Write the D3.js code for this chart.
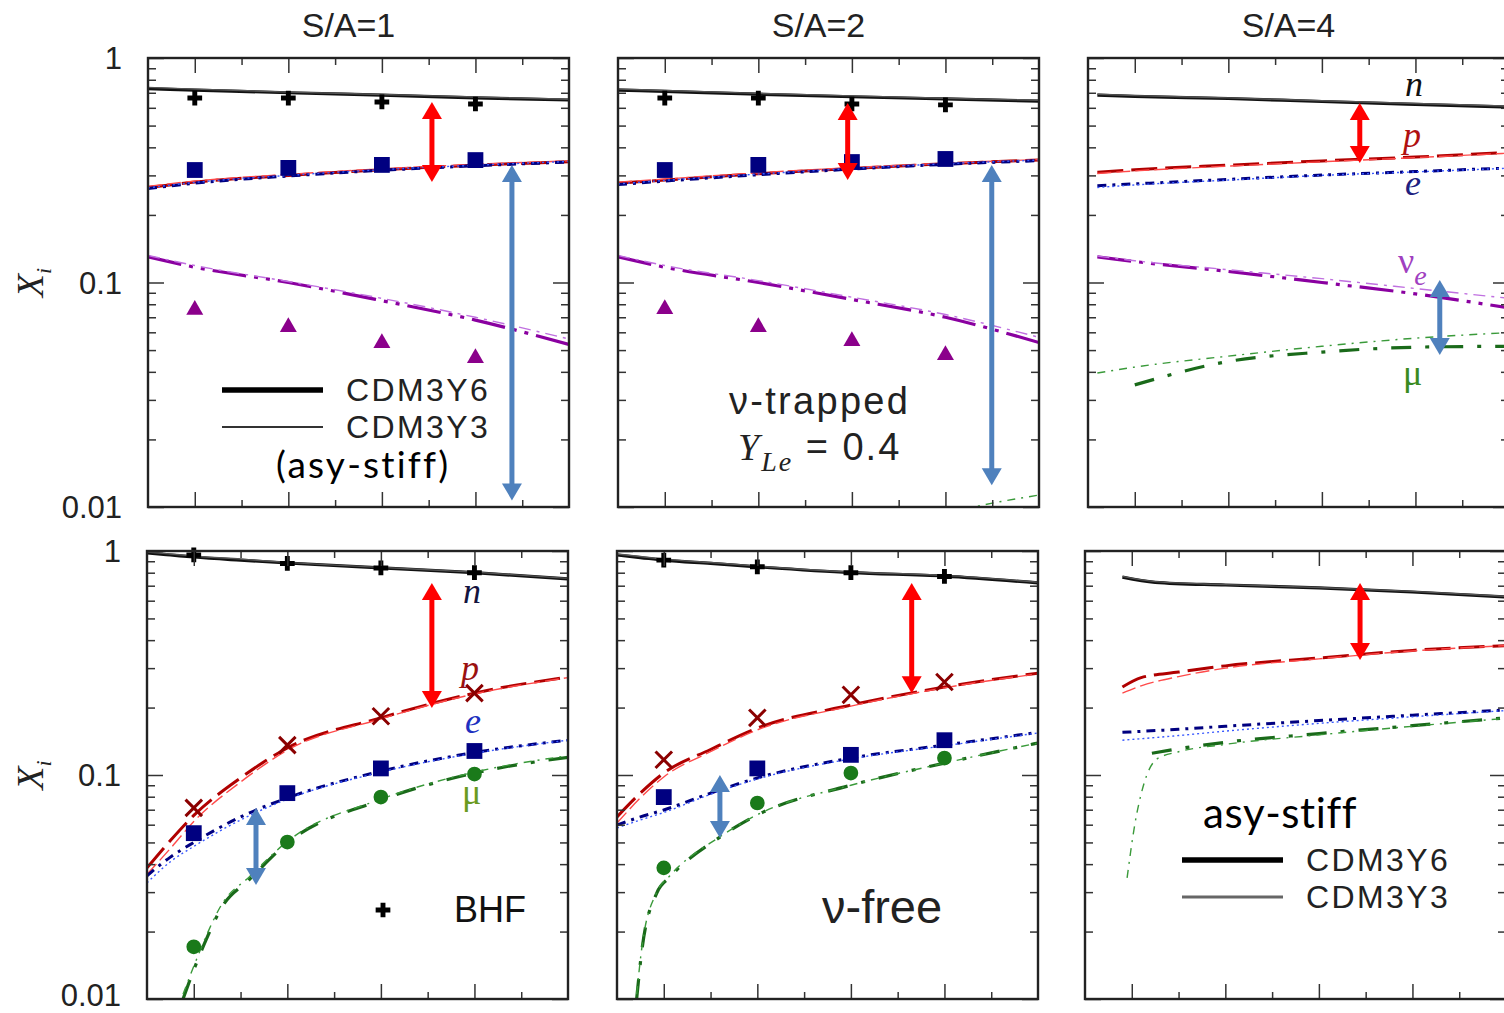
<!DOCTYPE html>
<html><head><meta charset="utf-8">
<script src="https://cdn.jsdelivr.net/npm/d3@7"></script>
<style>body{margin:0;background:#fff;} svg{display:block}</style>
</head><body><svg id="c" width="1504" height="1013"></svg>
<script>
// ---------- categories / tick labels ----------
const columnTitles = ["S/A=1", "S/A=2", "S/A=4"];
const yTickValues = [1, 0.1, 0.01];
const yTickLabels = ["1", "0.1", "0.01"];
const xMajorTicks = [0.2, 0.4, 0.6, 0.8];
const xMinorTicks = [0.3, 0.5, 0.7, 0.9];
const bhfDensity = [0.2, 0.4, 0.6, 0.8];
const legendModels = ["CDM3Y6", "CDM3Y3"];

// ---------- panel 1 : S/A=1, nu-trapped ----------
const tl_x   = [0.1, 0.2, 0.4, 0.6, 0.8, 1.0];
const tl_n6  = [0.73, 0.72, 0.70, 0.683, 0.665, 0.65];
const tl_n3  = [0.74, 0.727, 0.705, 0.688, 0.67, 0.655];
const tl_p6  = [0.265, 0.28, 0.30, 0.318, 0.333, 0.345];
const tl_p3  = [0.268, 0.283, 0.303, 0.321, 0.336, 0.348];
const tl_e6  = [0.262, 0.277, 0.298, 0.316, 0.331, 0.344];
const tl_e3  = [0.264, 0.279, 0.300, 0.318, 0.333, 0.346];
const tl_nu6 = [0.13, 0.117, 0.10, 0.083, 0.068, 0.053];
const tl_nu3 = [0.132, 0.119, 0.101, 0.085, 0.070, 0.056];
const tl_bhf_n  = [0.663, 0.663, 0.637, 0.624];
const tl_bhf_e  = [0.317, 0.324, 0.334, 0.351];
const tl_bhf_nu = [0.0755, 0.0633, 0.0537, 0.0461];

// ---------- panel 2 : S/A=2, nu-trapped ----------
const tm_x   = [0.1, 0.2, 0.4, 0.6, 0.8, 1.0];
const tm_n6  = [0.72, 0.71, 0.69, 0.672, 0.657, 0.643];
const tm_n3  = [0.728, 0.716, 0.696, 0.678, 0.662, 0.648];
const tm_p6  = [0.277, 0.286, 0.305, 0.322, 0.338, 0.351];
const tm_p3  = [0.28, 0.289, 0.308, 0.325, 0.34, 0.353];
const tm_e6  = [0.273, 0.283, 0.302, 0.32, 0.336, 0.349];
const tm_e3  = [0.275, 0.285, 0.304, 0.322, 0.338, 0.351];
const tm_nu6 = [0.13, 0.117, 0.10, 0.084, 0.07, 0.054];
const tm_nu3 = [0.132, 0.119, 0.102, 0.086, 0.072, 0.057];
const tm_mu_x = [0.84, 0.9, 1.0];
const tm_mu3  = [0.0098, 0.0104, 0.0113];
const tm_bhf_n  = [0.663, 0.663, 0.624, 0.618];
const tm_bhf_e  = [0.317, 0.334, 0.344, 0.355];
const tm_bhf_nu = [0.0762, 0.0633, 0.0548, 0.0475];

// ---------- panel 3 : S/A=4, nu-trapped ----------
const tr_x   = [0.12, 0.2, 0.4, 0.6, 0.8, 1.0];
const tr_n6  = [0.684, 0.675, 0.66, 0.64, 0.622, 0.605];
const tr_n3  = [0.69, 0.68, 0.664, 0.645, 0.627, 0.61];
const tr_p6  = [0.31, 0.318, 0.333, 0.348, 0.362, 0.38];
const tr_p3  = [0.306, 0.314, 0.33, 0.345, 0.36, 0.377];
const tr_e6  = [0.27, 0.275, 0.288, 0.301, 0.312, 0.324];
const tr_e3  = [0.265, 0.272, 0.286, 0.30, 0.311, 0.323];
const tr_nu6 = [0.13, 0.124, 0.112, 0.100, 0.089, 0.077];
const tr_nu3 = [0.131, 0.125, 0.114, 0.104, 0.094, 0.085];
const tr_mu6_x = [0.2, 0.4, 0.6, 0.8, 1.0];
const tr_mu6   = [0.035, 0.0445, 0.049, 0.0515, 0.052];
const tr_mu3   = [0.0395, 0.042, 0.047, 0.052, 0.0565, 0.0598];

// ---------- panel 4 : S/A=1, nu-free ----------
const bl_x   = [0.1, 0.15, 0.2, 0.3, 0.4, 0.6, 0.8, 1.0];
const bl_n6  = [0.98, 0.96, 0.94, 0.91, 0.884, 0.84, 0.80, 0.75];
const bl_n3  = [0.99, 0.97, 0.95, 0.92, 0.89, 0.845, 0.805, 0.755];
const bl_p6  = [0.0385, 0.051, 0.066, 0.097, 0.132, 0.18, 0.232, 0.274];
const bl_p3  = [0.036, 0.047, 0.062, 0.093, 0.129, 0.178, 0.23, 0.272];
const bl_e6  = [0.0355, 0.043, 0.05, 0.065, 0.079, 0.104, 0.126, 0.143];
const bl_e3  = [0.033, 0.041, 0.048, 0.063, 0.078, 0.103, 0.125, 0.143];
const bl_mu_x = [0.177, 0.2, 0.226, 0.26, 0.318, 0.4, 0.6, 0.8, 1.0];
const bl_mu6  = [0.01, 0.0135, 0.0183, 0.0257, 0.034, 0.0497, 0.0773, 0.102, 0.12];
const bl_mu3  = [0.0105, 0.014, 0.019, 0.0265, 0.035, 0.0505, 0.078, 0.103, 0.122];
const bl_bhf_n  = [0.96, 0.88, 0.84, 0.80];
const bl_bhf_p  = [0.0713, 0.136, 0.183, 0.232];
const bl_bhf_e  = [0.055, 0.083, 0.107, 0.128];
const bl_bhf_mu = [0.0171, 0.0502, 0.0797, 0.101];

// ---------- panel 5 : S/A=2, nu-free ----------
const bm_x   = [0.1, 0.15, 0.2, 0.3, 0.4, 0.6, 0.8, 1.0];
const bm_n6  = [0.96, 0.935, 0.91, 0.88, 0.85, 0.80, 0.773, 0.72];
const bm_n3  = [0.97, 0.945, 0.92, 0.888, 0.856, 0.806, 0.778, 0.725];
const bm_p6  = [0.065, 0.083, 0.102, 0.13, 0.162, 0.205, 0.247, 0.285];
const bm_p3  = [0.061, 0.079, 0.098, 0.127, 0.159, 0.203, 0.245, 0.283];
const bm_e6  = [0.0598, 0.065, 0.0698, 0.083, 0.097, 0.119, 0.136, 0.155];
const bm_e3  = [0.058, 0.063, 0.068, 0.082, 0.096, 0.118, 0.135, 0.154];
const bm_mu_x = [0.142, 0.154, 0.185, 0.213, 0.32, 0.4, 0.6, 0.8, 1.0];
const bm_mu6  = [0.01, 0.017, 0.0297, 0.035, 0.0528, 0.0663, 0.09, 0.113, 0.139];
const bm_mu3  = [0.0105, 0.0175, 0.030, 0.0355, 0.053, 0.0665, 0.09, 0.113, 0.139];
const bm_bhf_n  = [0.91, 0.85, 0.80, 0.77];
const bm_bhf_p  = [0.117, 0.18, 0.228, 0.26];
const bm_bhf_e  = [0.0797, 0.107, 0.123, 0.143];
const bm_bhf_mu = [0.0385, 0.075, 0.102, 0.119];

// ---------- panel 6 : S/A=4, nu-free ----------
const br_n_x = [0.18, 0.25, 0.4, 0.6, 0.8, 1.0];
const br_n6  = [0.765, 0.725, 0.705, 0.684, 0.656, 0.623];
const br_n3  = [0.77, 0.73, 0.708, 0.687, 0.66, 0.627];
const br_p_x = [0.18, 0.22, 0.3, 0.4, 0.6, 0.8, 1.0];
const br_p6  = [0.247, 0.272, 0.288, 0.307, 0.333, 0.36, 0.378];
const br_p3  = [0.232, 0.25, 0.275, 0.30, 0.33, 0.358, 0.378];
const br_e_x = [0.18, 0.3, 0.4, 0.6, 0.8, 1.0];
const br_e6  = [0.155, 0.16, 0.165, 0.175, 0.185, 0.195];
const br_e3  = [0.143, 0.15, 0.157, 0.17, 0.182, 0.194];
const br_mu6_x = [0.243, 0.3, 0.4, 0.6, 0.8, 1.0];
const br_mu6   = [0.125, 0.131, 0.14, 0.153, 0.166, 0.18];
const br_mu3_x = [0.19, 0.207, 0.224, 0.254, 0.3, 0.4, 0.6, 0.8, 1.0];
const br_mu3   = [0.0347, 0.061, 0.0884, 0.118, 0.127, 0.137, 0.151, 0.165, 0.179];

// ---------- annotation arrows [x, yTip1, yTip2] per panel ----------
const redArrows  = [[0.707, 0.637, 0.28], [0.591, 0.63, 0.286], [0.681, 0.63, 0.341],
                    [0.709, 0.72, 0.199], [0.730, 0.72, 0.232], [0.688, 0.72, 0.326]];
const blueArrows = [[0.878, 0.334, 0.0107], [0.899, 0.334, 0.0125], [0.852, 0.1026, 0.0475],
                    [0.333, 0.0713, 0.0323], [0.32, 0.1, 0.0523], null];

// ---------- styles ----------
const styles = {
  n6:  {stroke: "#111",    w: 3.2, dash: null},
  n3:  {stroke: "#555",    w: 1.4, dash: null},
  p6:  {stroke: "#b00000", w: 3.0, dash: "26,8"},
  p3:  {stroke: "#ff4a4a", w: 1.4, dash: "14,5"},
  e6:  {stroke: "#000080", w: 3.0, dash: "9,6,3,6"},
  e3:  {stroke: "#3a5aff", w: 1.4, dash: "2,3"},
  nu6: {stroke: "#8a00a0", w: 3.2, dash: "34,8,4,8,4,8"},
  nu3: {stroke: "#c070e0", w: 1.4, dash: "12,6,3,6"},
  mu6: {stroke: "#1a6a1a", w: 3.2, dash: "20,14,4,14"},
  mu3: {stroke: "#3a9a3a", w: 1.4, dash: "8,6,2,6"}
};
const zip = (xs, ys) => xs.map((v, i) => [v, ys[i]]);

const panelLines = [
  [["n6", tl_x, tl_n6], ["n3", tl_x, tl_n3], ["p6", tl_x, tl_p6], ["p3", tl_x, tl_p3],
   ["e6", tl_x, tl_e6], ["e3", tl_x, tl_e3], ["nu6", tl_x, tl_nu6], ["nu3", tl_x, tl_nu3]],
  [["n6", tm_x, tm_n6], ["n3", tm_x, tm_n3], ["p6", tm_x, tm_p6], ["p3", tm_x, tm_p3],
   ["e6", tm_x, tm_e6], ["e3", tm_x, tm_e3], ["nu6", tm_x, tm_nu6], ["nu3", tm_x, tm_nu3],
   ["mu3", tm_mu_x, tm_mu3]],
  [["n6", tr_x, tr_n6], ["n3", tr_x, tr_n3], ["p6", tr_x, tr_p6], ["p3", tr_x, tr_p3],
   ["e6", tr_x, tr_e6], ["e3", tr_x, tr_e3], ["nu6", tr_x, tr_nu6], ["nu3", tr_x, tr_nu3],
   ["mu6", tr_mu6_x, tr_mu6], ["mu3", tr_x, tr_mu3]],
  [["n6", bl_x, bl_n6], ["n3", bl_x, bl_n3], ["p6", bl_x, bl_p6], ["p3", bl_x, bl_p3],
   ["e6", bl_x, bl_e6], ["e3", bl_x, bl_e3], ["mu6", bl_mu_x, bl_mu6], ["mu3", bl_mu_x, bl_mu3]],
  [["n6", bm_x, bm_n6], ["n3", bm_x, bm_n3], ["p6", bm_x, bm_p6], ["p3", bm_x, bm_p3],
   ["e6", bm_x, bm_e6], ["e3", bm_x, bm_e3], ["mu6", bm_mu_x, bm_mu6], ["mu3", bm_mu_x, bm_mu3]],
  [["n6", br_n_x, br_n6], ["n3", br_n_x, br_n3], ["p6", br_p_x, br_p6], ["p3", br_p_x, br_p3],
   ["e6", br_e_x, br_e6], ["e3", br_e_x, br_e3], ["mu6", br_mu6_x, br_mu6], ["mu3", br_mu3_x, br_mu3]]
];

const panelPoints = [
  {n: tl_bhf_n, e: tl_bhf_e, nu: tl_bhf_nu},
  {n: tm_bhf_n, e: tm_bhf_e, nu: tm_bhf_nu},
  {},
  {n: bl_bhf_n, p: bl_bhf_p, e: bl_bhf_e, mu: bl_bhf_mu},
  {n: bm_bhf_n, p: bm_bhf_p, e: bm_bhf_e, mu: bm_bhf_mu},
  {}
];

// ---------- layout ----------
const W = 421;
const boxes = [
  {left: 148, top: 58, bottom: 507}, {left: 618, top: 58, bottom: 507}, {left: 1088, top: 58, bottom: 507},
  {left: 147, top: 551, bottom: 999}, {left: 617, top: 551, bottom: 999}, {left: 1085, top: 551, bottom: 999}
];
const SANS = "'Liberation Sans', Arial, sans-serif";
const SERIF = "'Liberation Serif', 'Times New Roman', serif";
const CAL = "Lato, 'Open Sans', sans-serif";

const svg = d3.select("#c");
svg.append("rect").attr("width", 1504).attr("height", 1013).attr("fill", "#fff");

const yMinor = [];
[0.01, 0.1].forEach(d => { for (let k = 2; k <= 9; k++) yMinor.push(+(d * k).toPrecision(3)); });

function drawArrow(g, x, ya, yb, color) {
  const top = Math.min(ya, yb), bot = Math.max(ya, yb);
  const hl = 17, hw = 10;
  g.append("line").attr("x1", x).attr("x2", x).attr("y1", top + hl - 1).attr("y2", bot - hl + 1)
    .attr("stroke", color).attr("stroke-width", 5);
  g.append("path").attr("d", `M${x},${top} L${x - hw},${top + hl} L${x + hw},${top + hl} Z`).attr("fill", color);
  g.append("path").attr("d", `M${x},${bot} L${x - hw},${bot - hl} L${x + hw},${bot - hl} Z`).attr("fill", color);
}

boxes.forEach((b, i) => {
  const x = d3.scaleLinear().domain([0.1, 1.0]).range([b.left, b.left + W]);
  const y = d3.scaleLog().domain([0.01, 1]).range([b.bottom, b.top]);
  const g = svg.append("g");
  const cid = "clip" + i;
  svg.append("clipPath").attr("id", cid).append("rect")
    .attr("x", b.left).attr("y", b.top).attr("width", W).attr("height", b.bottom - b.top);

  // lines
  const lg = g.append("g").attr("clip-path", `url(#${cid})`);
  const line = d3.line().x(d => x(d[0])).y(d => y(d[1])).curve(d3.curveMonotoneX);
  panelLines[i].forEach(([key, xs, ys]) => {
    const s = styles[key];
    lg.append("path").datum(zip(xs, ys)).attr("d", line)
      .attr("fill", "none").attr("stroke", s.stroke).attr("stroke-width", s.w)
      .attr("stroke-dasharray", s.dash).attr("stroke-linecap", "butt");
  });

  // BHF points
  const pts = panelPoints[i];
  const pg = g.append("g");
  if (pts.n) pg.selectAll(".bn").data(zip(bhfDensity, pts.n)).join("path")
    .attr("transform", d => `translate(${x(d[0])},${y(d[1])})`)
    .attr("d", d3.symbol(d3.symbolCross, 120)).attr("fill", "#000");
  if (pts.p) pg.selectAll(".bp").data(zip(bhfDensity, pts.p)).join("path")
    .attr("transform", d => `translate(${x(d[0])},${y(d[1])})`)
    .attr("d", d3.symbol(d3.symbolTimes || d3.symbolX, 180)).attr("fill", "none")
    .attr("stroke", "#8b0000").attr("stroke-width", 3);
  if (pts.e) pg.selectAll(".be").data(zip(bhfDensity, pts.e)).join("path")
    .attr("transform", d => `translate(${x(d[0])},${y(d[1])})`)
    .attr("d", d3.symbol(d3.symbolSquare, 250)).attr("fill", "#000080");
  if (pts.nu) pg.selectAll(".bnu").data(zip(bhfDensity, pts.nu)).join("path")
    .attr("transform", d => `translate(${x(d[0])},${y(d[1])})`)
    .attr("d", d3.symbol(d3.symbolTriangle, 125)).attr("fill", "#8b008b");
  if (pts.mu) pg.selectAll(".bmu").data(zip(bhfDensity, pts.mu)).join("path")
    .attr("transform", d => `translate(${x(d[0])},${y(d[1])})`)
    .attr("d", d3.symbol(d3.symbolCircle, 170)).attr("fill", "#1a7a1a");

  // arrows
  const ra = redArrows[i];
  if (ra) drawArrow(g, x(ra[0]), y(ra[1]), y(ra[2]), "#ff0000");
  const ba = blueArrows[i];
  if (ba) drawArrow(g, x(ba[0]), y(ba[1]), y(ba[2]), "#4f81bd");

  // axes (ticks inward)
  const ax = g.append("g").attr("class", "axes");
  const styleAxis = sel => { sel.select(".domain").remove(); sel.selectAll("line").attr("stroke", "#333").attr("stroke-width", 1.5); };
  const left = ax.append("g").attr("transform", `translate(${b.left},0)`)
    .call(d3.axisLeft(y).tickValues(yTickValues).tickSizeInner(-16).tickSizeOuter(0).tickPadding(26)
      .tickFormat((d, k) => (i % 3 === 0 ? yTickLabels[k] : "")));
  styleAxis(left);
  left.selectAll("text").attr("font-family", SANS).attr("font-size", 31).attr("fill", "#222")
    .attr("dy", d => (i === 3 && d === 0.01) ? "0.2em" : "0.34em");
  ax.append("g").attr("transform", `translate(${b.left},0)`)
    .call(d3.axisLeft(y).tickValues(yMinor).tickSize(-8).tickFormat("")).call(styleAxis);
  ax.append("g").attr("transform", `translate(${b.left + W},0)`)
    .call(d3.axisRight(y).tickValues(yTickValues).tickSize(-16).tickFormat("")).call(styleAxis);
  ax.append("g").attr("transform", `translate(${b.left + W},0)`)
    .call(d3.axisRight(y).tickValues(yMinor).tickSize(-8).tickFormat("")).call(styleAxis);
  ax.append("g").attr("transform", `translate(0,${b.top})`)
    .call(d3.axisTop(x).tickValues(xMajorTicks).tickSize(-15).tickFormat("")).call(styleAxis);
  ax.append("g").attr("transform", `translate(0,${b.top})`)
    .call(d3.axisTop(x).tickValues(xMinorTicks).tickSize(-7).tickFormat("")).call(styleAxis);
  ax.append("g").attr("transform", `translate(0,${b.bottom})`)
    .call(d3.axisBottom(x).tickValues(xMajorTicks).tickSize(-15).tickFormat("")).call(styleAxis);
  ax.append("g").attr("transform", `translate(0,${b.bottom})`)
    .call(d3.axisBottom(x).tickValues(xMinorTicks).tickSize(-7).tickFormat("")).call(styleAxis);

  // frame
  g.append("rect").attr("x", b.left).attr("y", b.top).attr("width", W).attr("height", b.bottom - b.top)
    .attr("fill", "none").attr("stroke", "#222").attr("stroke-width", 2.4);

  // y axis title
  if (i % 3 === 0) {
    const cy = (b.top + b.bottom) / 2;
    const t = svg.append("text").attr("transform", `translate(43,${cy}) rotate(-90)`)
      .attr("text-anchor", "middle").attr("font-family", SERIF).attr("font-style", "italic")
      .attr("font-size", 38).attr("fill", "#222");
    t.append("tspan").text("X");
    t.append("tspan").attr("font-size", 22).attr("dy", 8).text("i");
  }
});

// column titles
svg.selectAll(".ct").data(columnTitles).join("text")
  .attr("x", (d, k) => boxes[k].left + W / 2 - 10).attr("y", 37)
  .attr("text-anchor", "middle").attr("font-family", SANS).attr("font-size", 34).attr("fill", "#222")
  .text(d => d);

// ---------- legends / annotations ----------
function legend(x0, x1, yThick, yThin, tx, thinColor, thinW) {
  svg.append("line").attr("x1", x0).attr("x2", x1).attr("y1", yThick).attr("y2", yThick)
    .attr("stroke", "#000").attr("stroke-width", 5.5);
  svg.append("line").attr("x1", x0).attr("x2", x1).attr("y1", yThin).attr("y2", yThin)
    .attr("stroke", thinColor).attr("stroke-width", thinW);
  [yThick, yThin].forEach((yy, k) => svg.append("text").attr("x", tx).attr("y", yy + 11)
    .attr("font-family", SANS).attr("font-size", 32).attr("letter-spacing", 2.4)
    .attr("fill", "#222").text(legendModels[k]));
}
legend(222, 323, 390, 427, 346, "#333", 2);
legend(1182, 1283, 860, 897, 1306, "#666", 3);

svg.append("text").attr("x", 276).attr("y", 478).attr("font-family", CAL).attr("font-size", 37)
  .attr("letter-spacing", 2.2).attr("fill", "#000").text("(asy-stiff)");
svg.append("text").attr("x", 1203).attr("y", 828).attr("font-family", CAL).attr("font-size", 42)
  .attr("letter-spacing", 0.6).attr("fill", "#000").text("asy-stiff");

svg.append("text").attr("x", 729).attr("y", 414).attr("font-family", SANS).attr("font-size", 38)
  .attr("letter-spacing", 2.3).attr("fill", "#222").text("ν-trapped");
const yle = svg.append("text").attr("x", 738).attr("y", 460).attr("font-size", 38)
  .attr("letter-spacing", 2).attr("fill", "#222");
yle.append("tspan").attr("font-family", SERIF).attr("font-style", "italic").text("Y");
yle.append("tspan").attr("font-family", SERIF).attr("font-style", "italic").attr("font-size", 28).attr("dy", 11).text("Le");
yle.append("tspan").attr("font-family", SANS).attr("dy", -11).text(" = 0.4");

svg.append("text").attr("x", 822).attr("y", 923).attr("font-family", SANS).attr("font-size", 47)
  .attr("fill", "#222").text("ν-free");

// BHF legend
svg.append("path").attr("transform", `translate(383,910)`).attr("d", d3.symbol(d3.symbolCross, 120)).attr("fill", "#000");
svg.append("text").attr("x", 454).attr("y", 922).attr("font-family", SANS).attr("font-size", 36)
  .attr("fill", "#111").text("BHF");

// species labels
function spLabel(x, y, txt, color, italic, sub) {
  const t = svg.append("text").attr("x", x).attr("y", y).attr("font-family", SERIF)
    .attr("font-size", 36).attr("fill", color).attr("font-style", italic ? "italic" : "normal");
  t.append("tspan").text(txt);
  if (sub) t.append("tspan").attr("font-style", "italic").attr("font-size", 28).attr("dy", 12).text(sub);
}
spLabel(1405, 96, "n", "#111", true);
spLabel(1403, 147, "p", "#b01010", true);
spLabel(1405, 195, "e", "#202080", true);
spLabel(1398, 273, "ν", "#a040c0", false, "e");
spLabel(1403, 385, "μ", "#3a8a20", false);

spLabel(463, 603, "n", "#141440", true);
spLabel(461, 680, "p", "#9a1010", true);
spLabel(465, 733, "e", "#2030c0", true);
spLabel(462, 804, "μ", "#6a9a20", false);
</script>
</body></html>
